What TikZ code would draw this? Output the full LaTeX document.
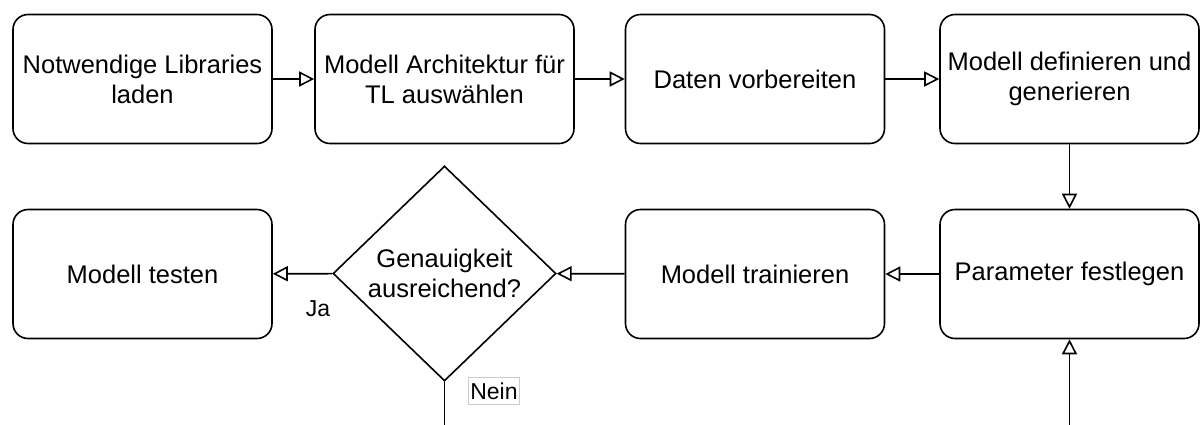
\documentclass[tikz,border=0pt]{standalone}
\usepackage{fontspec}
\setmainfont{Liberation Sans}
\usetikzlibrary{arrows.meta,shapes.geometric}

\tikzset{
  flowbox/.style={draw, line width=1.6pt, rounded corners=15pt, fill=white,
    minimum width=259pt, minimum height=129pt, inner sep=0pt,
    align=center, font=\fontsize{25.5}{30}\selectfont},
  decision/.style={draw, diamond, line width=1.6pt, fill=white, inner sep=0pt,
    minimum width=223pt, minimum height=215pt,
    align=center, font=\fontsize{25.5}{30}\selectfont},
  flow/.style={draw, line width=1.6pt,
    -{Triangle[open, length=15pt, width=15pt, line width=1.6pt]}},
  edgelabel/.style={font=\fontsize{23}{27}\selectfont, inner sep=2pt},
}

\begin{document}
\begin{tikzpicture}[x=1pt, y=-1pt]
  \useasboundingbox (0,0) rectangle (1200,424);
  \clip (0,0) rectangle (1200,424);

  % first row
  \node[flowbox] (libs)  at (142.5,79)  {Notwendige Libraries\\laden};
  \node[flowbox] (arch)  at (444.5,79)  {Modell Architektur für\\TL auswählen};
  \node[flowbox] (data)  at (755,79)    {Daten vorbereiten};
  \node[flowbox] (model) at (1069.5,79) {Modell definieren und\\generieren};

  % second row
  \node[flowbox]  (test)   at (142.5,274)  {Modell testen};
  \node[decision] (acc)    at (444.5,273.5) {Genauigkeit\\ausreichend?};
  \node[flowbox]  (train)  at (755,274)    {Modell trainieren};
  \node[flowbox]  (params) at (1069.5,274) {Parameter festlegen};

  % loop back below the picture
  \coordinate (loopA) at (444.5,470);
  \coordinate (loopB) at (1069.5,470);

  % connectors
  \draw[flow] (libs)  -- (arch);
  \draw[flow] (arch)  -- (data);
  \draw[flow] (data)  -- (model);
  \draw[flow] (model) -- (params);
  \draw[flow] (params) -- (train);
  \draw[flow] (train) -- (acc);
  \draw[flow] (acc) -- (test);
  \draw[flow] (acc.south) -- (loopA) -- (loopB) -- (params.south);

  % branch labels
  \node[edgelabel] (ja) at (318,309) {Ja};
  \node[edgelabel, draw=black!20, line width=0.8pt, fill=white,
        minimum height=27pt, minimum width=50pt] (nein) at (494,391) {Nein};
\end{tikzpicture}
\end{document}
